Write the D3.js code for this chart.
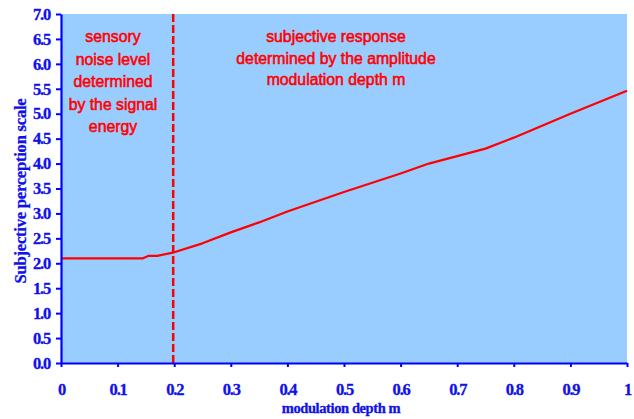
<!DOCTYPE html>
<html>
<head>
<meta charset="utf-8">
<script src="https://cdn.jsdelivr.net/npm/d3@7"></script>
<style>
  html, body { margin: 0; padding: 0; background: #ffffff; }
  svg { display: block; }
</style>
</head>
<body>
<svg id="chart" width="634" height="419"></svg>
<script>
// ---- data ----
const depthM = [0, 0.145, 0.155, 0.17, 0.2, 0.25, 0.3, 0.35, 0.4, 0.5, 0.6, 0.65, 0.75, 0.8, 0.9, 1.0];
const perception = [2.1, 2.1, 2.15, 2.15, 2.22, 2.4, 2.62, 2.82, 3.04, 3.43, 3.8, 4.0, 4.3, 4.52, 5.0, 5.46];
const xTicks = [0, 0.1, 0.2, 0.3, 0.4, 0.5, 0.6, 0.7, 0.8, 0.9, 1];
const yTicks = [0, 0.5, 1, 1.5, 2, 2.5, 3, 3.5, 4, 4.5, 5, 5.5, 6, 6.5, 7];
const boundaryM = 0.2;
const leftNote = ["sensory", "noise level", "determined", "by the signal", "energy"];
const rightNote = ["subjective response", "determined by the amplitude", "modulation depth m"];
const xTitle = "modulation depth m";
const yTitle = "Subjective perception scale";

// ---- layout ----
const L = 61, R = 627, T = 14, B = 363;
const svg = d3.select("#chart");
const x = d3.scaleLinear().domain([0, 1]).range([L, R]);
const y = d3.scaleLinear().domain([0, 7]).range([B, T]);

const blue = "#0000ff";
const textBlue = "#1010e8";
const red = "#ff0000";

svg.append("rect").attr("x", L).attr("y", T).attr("width", R - L).attr("height", B - T)
  .attr("fill", "#99ccff");

// data line
svg.append("path")
  .datum(depthM.map((m, i) => [m, perception[i]]))
  .attr("fill", "none").attr("stroke", red).attr("stroke-width", 2.2)
  .attr("stroke-linejoin", "round")
  .attr("d", d3.line().x(d => x(d[0])).y(d => y(d[1])));

// dashed boundary
svg.append("line")
  .attr("x1", x(boundaryM) - 1).attr("x2", x(boundaryM) - 1)
  .attr("y1", T).attr("y2", B)
  .attr("stroke", red).attr("stroke-width", 2.5).attr("stroke-dasharray", "8,3");

// annotations
const noteFont = "'Liberation Sans', Arial, sans-serif";
const gl = svg.append("g");
leftNote.forEach((t, i) => {
  gl.append("text").attr("x", 113).attr("y", 42 + i * 22.6)
    .attr("text-anchor", "middle").attr("font-family", noteFont)
    .attr("font-size", 15.8).attr("fill", red)
    .attr("stroke", red).attr("stroke-width", 0.55).text(t);
});
svg.append("clipPath").attr("id", "rclip").append("rect")
  .attr("x", 180).attr("y", 0).attr("width", 260).attr("height", 120);
const gr = svg.append("g").attr("clip-path", "url(#rclip)");
rightNote.forEach((t, i) => {
  gr.append("text").attr("x", 336).attr("y", 42 + i * 21.6)
    .attr("text-anchor", "middle").attr("font-family", noteFont)
    .attr("font-size", 15.8).attr("fill", red)
    .attr("stroke", red).attr("stroke-width", 0.55).text(t);
});

// axes
const axFont = "'Liberation Serif', 'Times New Roman', serif";
const yAxis = svg.append("g").attr("transform", `translate(${L},0)`)
  .call(d3.axisLeft(y).tickValues(yTicks).tickFormat(d3.format(".1f"))
    .tickSize(5).tickSizeOuter(0).tickPadding(6));
const xAxis = svg.append("g").attr("transform", `translate(0,${B})`)
  .call(d3.axisBottom(x).tickValues(xTicks)
    .tickFormat(d => (d === 0 || d === 1) ? d3.format("d")(d) : d3.format(".1f")(d))
    .tickSize(4).tickSizeOuter(0).tickPadding(16));
[yAxis, xAxis].forEach(a => {
  a.select(".domain").attr("stroke", blue).attr("stroke-width", 2.2);
  a.selectAll(".tick line").attr("stroke", blue).attr("stroke-width", 2);
  a.selectAll(".tick text").attr("fill", textBlue).attr("font-family", axFont)
    .attr("font-weight", "bold").attr("font-size", 16.5).attr("letter-spacing", -1.2)
    .attr("stroke", textBlue).attr("stroke-width", 0.3);
});

// titles
svg.append("text").attr("x", 341).attr("y", 413).attr("text-anchor", "middle")
  .attr("font-family", axFont).attr("font-weight", "bold").attr("font-size", 14.5)
  .attr("letter-spacing", -0.4).attr("fill", textBlue)
  .attr("stroke", textBlue).attr("stroke-width", 0.3).text(xTitle);
svg.append("text").attr("transform", "translate(26,191) rotate(-90)").attr("text-anchor", "middle")
  .attr("font-family", axFont).attr("font-weight", "bold").attr("font-size", 16.5)
  .attr("letter-spacing", -0.2).attr("fill", textBlue)
  .attr("stroke", textBlue).attr("stroke-width", 0.3).text(yTitle);
</script>
</body>
</html>
